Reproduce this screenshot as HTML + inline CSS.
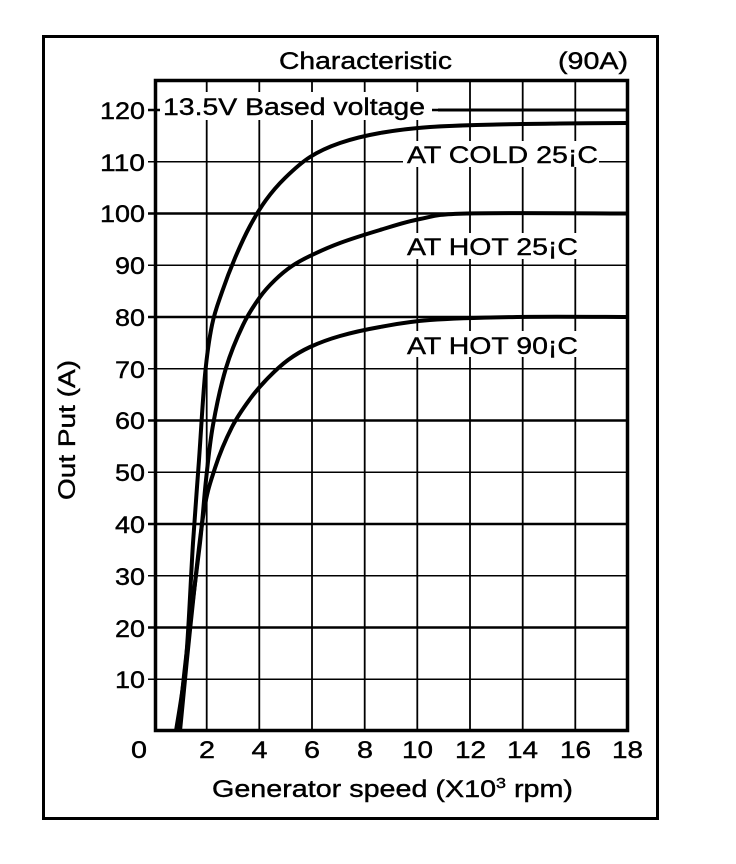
<!DOCTYPE html>
<html><head><meta charset="utf-8"><style>
html,body{margin:0;padding:0;background:#fff;}
svg{display:block;}
text{font-family:"Liberation Sans",Arial,sans-serif;fill:#000;stroke:#000;stroke-width:0.4;}
</style></head><body>
<svg id="s" width="736" height="864" viewBox="0 0 736 864" xmlns="http://www.w3.org/2000/svg">
<rect x="0" y="0" width="736" height="864" fill="#fff"/>
<rect x="43.5" y="36.5" width="614" height="782" fill="none" stroke="#000" stroke-width="3"/>
<g stroke="#000" stroke-width="1.8">
<line x1="206.7" y1="80" x2="206.7" y2="731"/>
<line x1="259.3" y1="80" x2="259.3" y2="731"/>
<line x1="312" y1="80" x2="312" y2="731"/>
<line x1="364.7" y1="80" x2="364.7" y2="731"/>
<line x1="417.3" y1="80" x2="417.3" y2="731"/>
<line x1="470" y1="80" x2="470" y2="731"/>
<line x1="522.7" y1="80" x2="522.7" y2="731"/>
<line x1="575.3" y1="80" x2="575.3" y2="731"/>
</g>
<g stroke="#000">
<line x1="148" y1="679.25" x2="628" y2="679.25" stroke-width="1.6"/>
<line x1="148" y1="627.5" x2="628" y2="627.5" stroke-width="2.4"/>
<line x1="148" y1="575.75" x2="628" y2="575.75" stroke-width="1.6"/>
<line x1="148" y1="524" x2="628" y2="524" stroke-width="2.4"/>
<line x1="148" y1="472.25" x2="628" y2="472.25" stroke-width="1.6"/>
<line x1="148" y1="420.5" x2="628" y2="420.5" stroke-width="2.4"/>
<line x1="148" y1="368.75" x2="628" y2="368.75" stroke-width="1.6"/>
<line x1="148" y1="317" x2="628" y2="317" stroke-width="2.4"/>
<line x1="148" y1="265.25" x2="628" y2="265.25" stroke-width="1.6"/>
<line x1="148" y1="213.5" x2="628" y2="213.5" stroke-width="2.4"/>
<line x1="148" y1="161.75" x2="628" y2="161.75" stroke-width="1.6"/>
<line x1="148" y1="110" x2="628" y2="110" stroke-width="2.4"/>
</g>
<rect x="160" y="92" width="272" height="28" fill="#fff"/>
<rect x="403" y="141" width="196" height="26" fill="#fff"/>
<rect x="403" y="233" width="178" height="26" fill="#fff"/>
<rect x="403" y="331" width="178" height="26" fill="#fff"/>
<line x1="438" y1="110" x2="628" y2="110" stroke="#000" stroke-width="3"/>
<g id="curves" fill="none" stroke="#000" stroke-width="4" stroke-linejoin="round"></g>
<rect x="155.5" y="80.5" width="472" height="650" fill="none" stroke="#000" stroke-width="3.5"/>
<text x="279" y="69" font-size="24" textLength="173" lengthAdjust="spacingAndGlyphs">Characteristic</text>
<text x="558" y="69" font-size="24" textLength="70" lengthAdjust="spacingAndGlyphs">(90A)</text>
<text x="163" y="115" font-size="24" textLength="262" lengthAdjust="spacingAndGlyphs">13.5V Based voltage</text>
<text x="407" y="163" font-size="24" textLength="191" lengthAdjust="spacingAndGlyphs">AT COLD 25¡C</text>
<text x="407" y="255" font-size="24" textLength="171" lengthAdjust="spacingAndGlyphs">AT HOT 25¡C</text>
<text x="407" y="354" font-size="24" textLength="171" lengthAdjust="spacingAndGlyphs">AT HOT 90¡C</text>
<g font-size="24">
<text x="100" y="119" textLength="45" lengthAdjust="spacingAndGlyphs">120</text>
<text x="100" y="171" textLength="45" lengthAdjust="spacingAndGlyphs">110</text>
<text x="100" y="222" textLength="45" lengthAdjust="spacingAndGlyphs">100</text>
<text x="115" y="274" textLength="30" lengthAdjust="spacingAndGlyphs">90</text>
<text x="115" y="326" textLength="30" lengthAdjust="spacingAndGlyphs">80</text>
<text x="115" y="378" textLength="30" lengthAdjust="spacingAndGlyphs">70</text>
<text x="115" y="429" textLength="30" lengthAdjust="spacingAndGlyphs">60</text>
<text x="115" y="481" textLength="30" lengthAdjust="spacingAndGlyphs">50</text>
<text x="115" y="533" textLength="30" lengthAdjust="spacingAndGlyphs">40</text>
<text x="115" y="585" textLength="30" lengthAdjust="spacingAndGlyphs">30</text>
<text x="115" y="637" textLength="30" lengthAdjust="spacingAndGlyphs">20</text>
<text x="115" y="688" textLength="30" lengthAdjust="spacingAndGlyphs">10</text>
</g>
<g font-size="24">
<text x="131" y="758" textLength="16" lengthAdjust="spacingAndGlyphs">0</text>
<text x="199" y="758" textLength="16" lengthAdjust="spacingAndGlyphs">2</text>
<text x="251.5" y="758" textLength="16" lengthAdjust="spacingAndGlyphs">4</text>
<text x="304" y="758" textLength="16" lengthAdjust="spacingAndGlyphs">6</text>
<text x="357" y="758" textLength="16" lengthAdjust="spacingAndGlyphs">8</text>
<text x="402" y="758" textLength="31" lengthAdjust="spacingAndGlyphs">10</text>
<text x="455" y="758" textLength="31" lengthAdjust="spacingAndGlyphs">12</text>
<text x="507" y="758" textLength="31" lengthAdjust="spacingAndGlyphs">14</text>
<text x="560" y="758" textLength="31" lengthAdjust="spacingAndGlyphs">16</text>
<text x="612" y="758" textLength="31" lengthAdjust="spacingAndGlyphs">18</text>
</g>
<text x="212" y="797" font-size="24" textLength="361" lengthAdjust="spacingAndGlyphs">Generator speed (X10<tspan font-size="15" dy="-9">3</tspan><tspan dy="9"> rpm)</tspan></text>
<text transform="translate(75,500) rotate(-90)" font-size="24" textLength="140" lengthAdjust="spacingAndGlyphs">Out Put (A)</text>
</svg>
<script>
var sets=[
[[176,731],[186,660],[193,543],[199,460],[205,375],[212,325],[222,292],[235,258],[250,226],[266,200],[285,178],[310,157],[340,143],[380,133],[430,127],[497,124.5],[560,123.5],[628,123]],
[[178,731],[188,640],[200,543],[206,480],[213,425],[226,368],[243,325],[260,297],[275,280],[292,266],[312,255],[340,243],[380,230],[420,219],[467,213.5],[628,213.5]],
[[180,731],[190,630],[203,517],[215,468],[232,427],[250,399],[268,378],[288,360],[310,347],[340,336],[380,327],[430,320],[517,317],[628,317]]
];
var g=document.getElementById('curves');
sets.forEach(function(p){
 var d='M'+p[0][0]+','+p[0][1];
 for(var i=0;i<p.length-1;i++){
  var p0=p[i-1]||p[i],p1=p[i],p2=p[i+1],p3=p[i+2]||p2;
  var c1x=p1[0]+(p2[0]-p0[0])/6,c1y=p1[1]+(p2[1]-p0[1])/6;
  var c2x=p2[0]-(p3[0]-p1[0])/6,c2y=p2[1]-(p3[1]-p1[1])/6;
  d+=' C'+c1x+','+c1y+' '+c2x+','+c2y+' '+p2[0]+','+p2[1];
 }
 var e=document.createElementNS('http://www.w3.org/2000/svg','path');
 e.setAttribute('d',d);g.appendChild(e);
});
</script>
</body></html>
